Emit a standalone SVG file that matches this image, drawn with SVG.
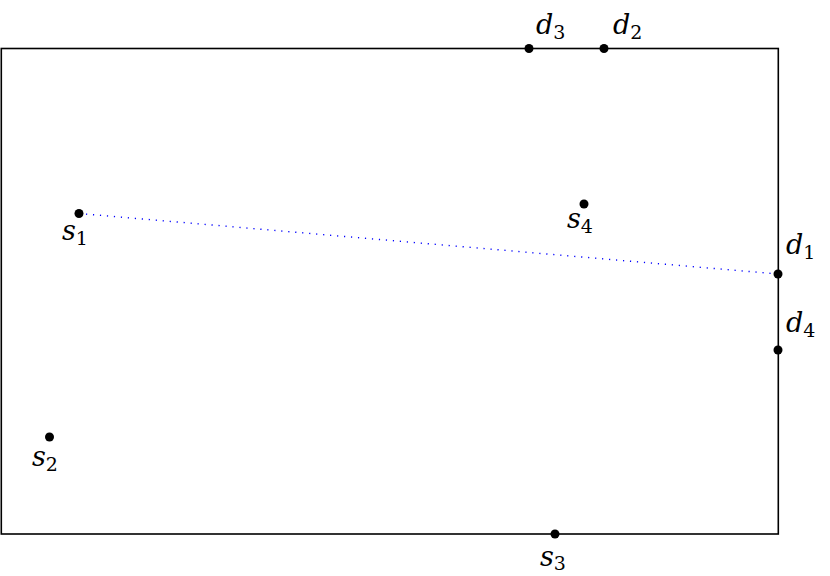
<svg xmlns="http://www.w3.org/2000/svg" width="830" height="576" viewBox="0 0 830 576">
<style>
.lbl{font-family:"DejaVu Serif","Liberation Serif",serif;font-style:italic;font-size:27px;fill:#000}
.sub{font-style:normal;font-size:19px}
.pt{fill:#000}
</style>
<rect width="830" height="576" fill="#fff"/>
<g id="region">
<rect x="1.3" y="48.5" width="777" height="485.5" fill="none" stroke="#000" stroke-width="1.6"/>
</g>
<g id="connectors">
<line x1="79" y1="213.5" x2="778" y2="274" stroke="#0000ff" stroke-width="1.4" stroke-dasharray="1.2 5.8" stroke-linecap="butt"/>
</g>
<g id="s1"><circle class="pt" cx="79" cy="213.5" r="4.5"/><text class="lbl" x="62" y="240">s<tspan class="sub" dy="5">1</tspan></text></g>
<g id="s2"><circle class="pt" cx="49.5" cy="437" r="4.5"/><text class="lbl" x="32" y="466">s<tspan class="sub" dy="5">2</tspan></text></g>
<g id="s3"><circle class="pt" cx="555" cy="534" r="4.5"/><text class="lbl" x="540" y="566">s<tspan class="sub" dy="4">3</tspan></text></g>
<g id="s4"><circle class="pt" cx="584" cy="204" r="4.5"/><text class="lbl" x="567" y="228">s<tspan class="sub" dy="5">4</tspan></text></g>
<g id="d1"><circle class="pt" cx="778" cy="274" r="4.5"/><text class="lbl" x="786" y="254">d<tspan class="sub" dy="5">1</tspan></text></g>
<g id="d2"><circle class="pt" cx="604" cy="48.5" r="4.5"/><text class="lbl" x="613" y="34">d<tspan class="sub" dy="5">2</tspan></text></g>
<g id="d3"><circle class="pt" cx="529" cy="48.5" r="4.5"/><text class="lbl" x="536" y="34">d<tspan class="sub" dy="5">3</tspan></text></g>
<g id="d4"><circle class="pt" cx="778" cy="350" r="4.5"/><text class="lbl" x="786" y="332">d<tspan class="sub" dy="5">4</tspan></text></g>
</svg>
